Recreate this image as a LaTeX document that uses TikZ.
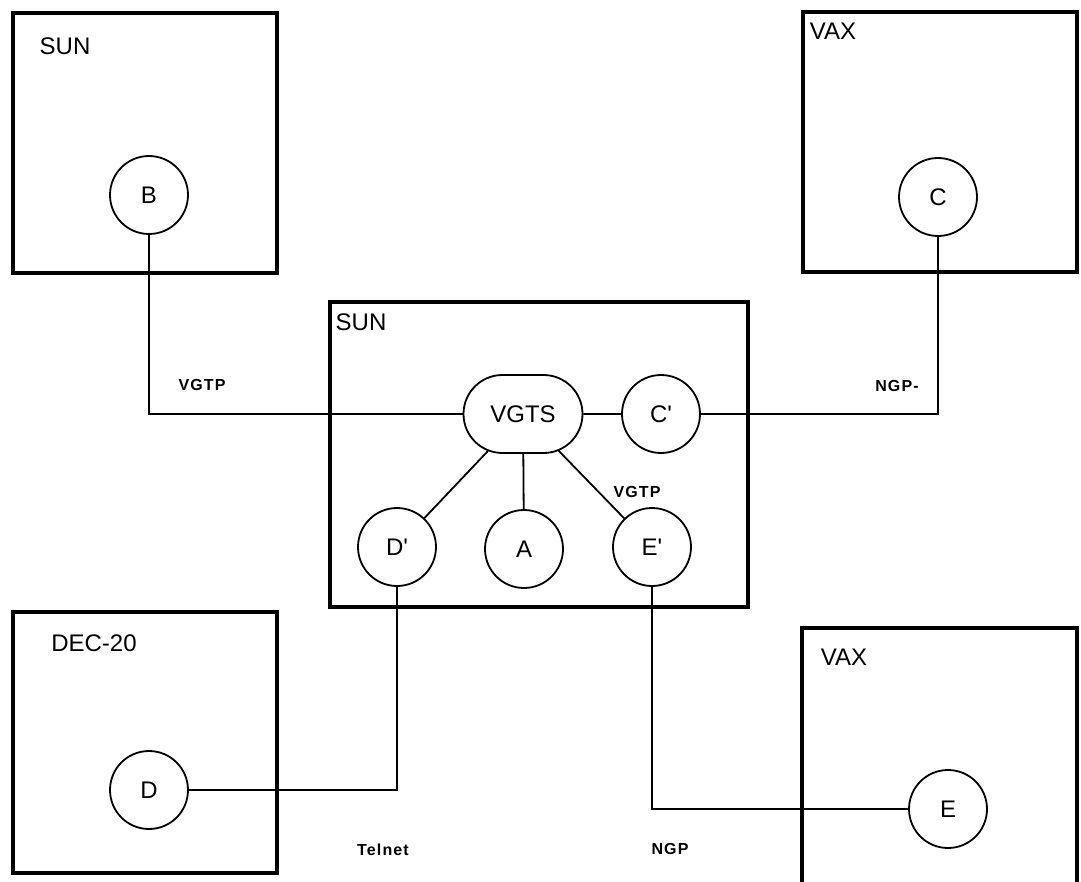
\documentclass[tikz,border=0pt]{standalone}
\usepackage{fontspec}
\setmainfont{Liberation Sans}
\newfontfamily\protofont[LetterSpace=7]{Liberation Sans}
\usetikzlibrary{shapes.misc}
\begin{document}
\begin{tikzpicture}[x=1pt,y=-1pt,
  host/.style={draw,line width=4pt},
  proc/.style={draw,circle,line width=1.8pt,minimum size=78pt,inner sep=0pt,font=\fontsize{24}{24}\selectfont},
  conn/.style={line width=1.8pt},
  hostlabel/.style={font=\fontsize{24}{24}\selectfont,inner sep=0pt},
  proto/.style={font=\protofont\fontsize{16}{16}\selectfont\bfseries,inner sep=0pt}]
\useasboundingbox (0,0) rectangle (1081,882);
\clip (0,0) rectangle (1081,882);
% hosts
\draw[host] (13,13) rectangle (277,273);
\node[hostlabel] (sun1) at (65,46) {SUN};
\draw[host] (803,12) rectangle (1077,272);
\node[hostlabel] (vax1) at (833,31) {VAX};
\draw[host] (330,302) rectangle (748,607);
\node[hostlabel] (sun2) at (361,322) {SUN};
\draw[host] (13,612) rectangle (277,873);
\node[hostlabel] (dec) at (94,643) {DEC-20};
\draw[host] (802,628) rectangle (1077,900);
\node[hostlabel] (vax2) at (844,657) {VAX};
% processes
\node[proc] (B) at (149,195) {B};
\node[proc] (C) at (938,197) {C};
\node[draw,rounded rectangle,line width=1.8pt,minimum width=119pt,minimum height=78pt,inner sep=0pt,font=\fontsize{24}{24}\selectfont] (VGTS) at (523,414) {VGTS};
\node[proc] (Cp) at (661,414) {C\textquotesingle};
\node[proc] (Dp) at (397,547) {D\textquotesingle};
\node[proc] (A) at (524,549) {A};
\node[proc] (Ep) at (652,547) {E\textquotesingle};
\node[proc] (D) at (149,790) {D};
\node[proc] (E) at (948,809) {E};
% connectors
\draw[conn] (B.south) |- (VGTS.west);
\draw[conn] (C.south) |- (Cp.east);
\draw[conn] (VGTS) -- (Cp);
\draw[conn] (VGTS) -- (Dp);
\draw[conn] (VGTS) -- (A);
\draw[conn] (VGTS) -- (Ep);
\draw[conn] (Dp.south) |- (D.east);
\draw[conn] (Ep.south) |- (E.west);
% protocol labels
\node[proto] (l1) at (202,385) {VGTP};
\node[proto] (l2) at (897,386) {NGP-};
\node[proto] (l3) at (637,492) {VGTP};
\node[proto] (l4) at (383,850) {Telnet};
\node[proto] (l5) at (670,849) {NGP};
\end{tikzpicture}
\end{document}
